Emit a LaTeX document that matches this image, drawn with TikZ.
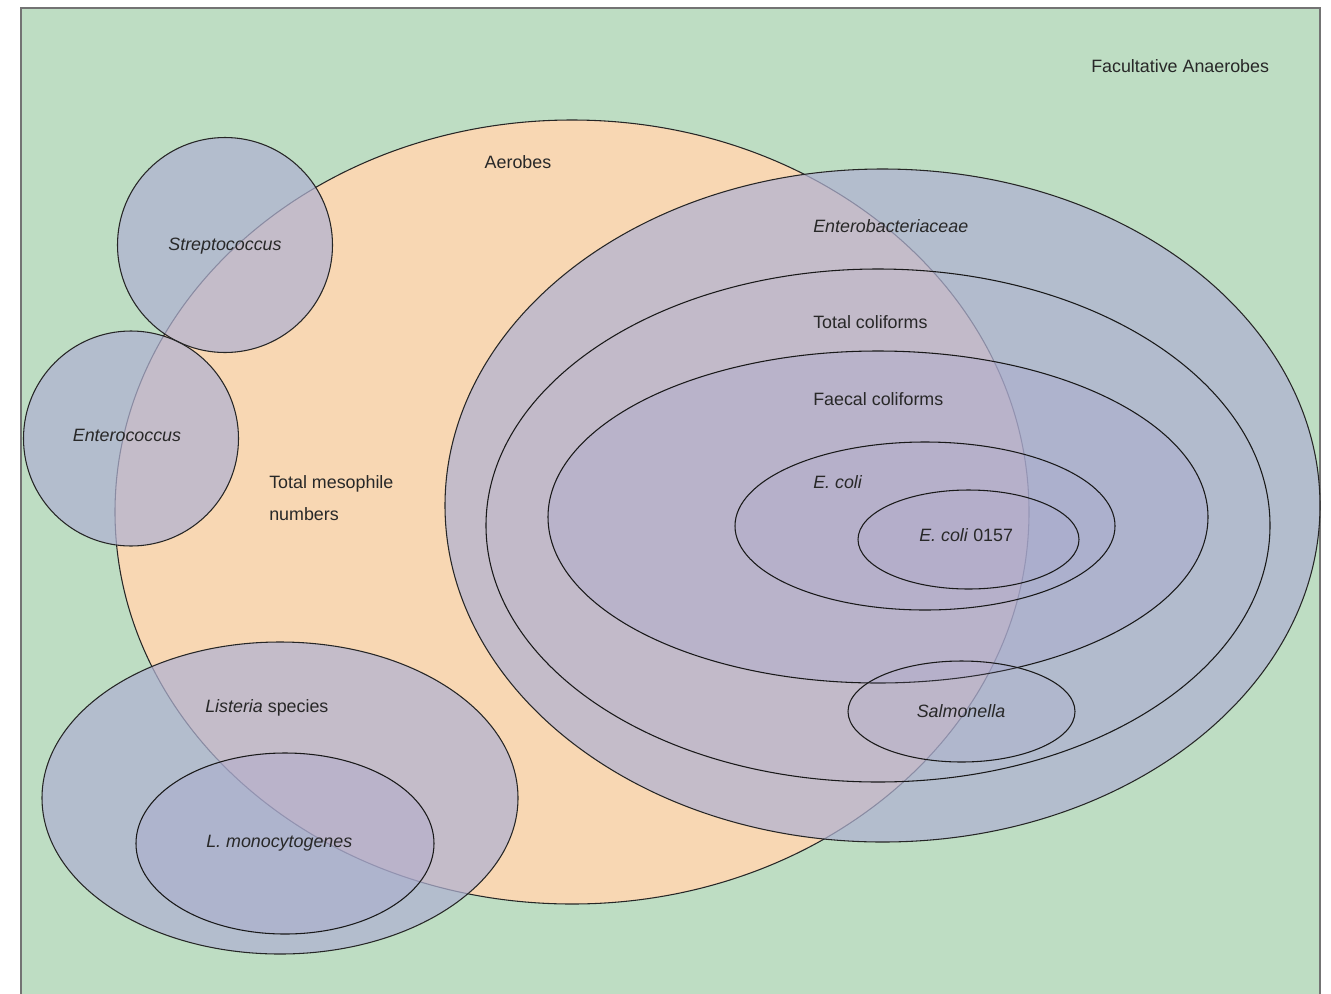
\documentclass[tikz,border=0pt]{standalone}
\usepackage{fontspec}
\setmainfont{Liberation Sans}
\definecolor{bggreen}{RGB}{190,221,195}
\definecolor{aerorange}{RGB}{248,215,179}
\definecolor{setblue}{RGB}{176,178,210}
\definecolor{nestblue}{RGB}{166,163,206}
\definecolor{txt}{RGB}{40,40,40}
\begin{document}
\begin{tikzpicture}[x=0.75pt,y=-0.75pt,
  outerset/.style={draw=black!85, line width=0.8pt, fill=setblue, fill opacity=0.72},
  innerset/.style={draw=black!90, line width=0.8pt, fill=nestblue, fill opacity=#1},
  innerset/.default=0.3,
  lbl/.style={font=\fontsize{13.4pt}{15pt}\selectfont, text=txt, inner sep=0pt, text height=0.72em, text depth=0pt},
  lblw/.style={lbl, anchor=west}]
\useasboundingbox (0,0) rectangle (1331,993);
% background
\fill[bggreen] (21,8) rectangle (1320,1000);
\draw[black!55, line width=1.1pt] (21,1000) -- (21,8) -- (1320,8) -- (1320,1000);
% aerobes
\draw[fill=aerorange, draw=black!85, line width=0.8pt] (572,512) ellipse [x radius=457, y radius=392];
% sets
\draw[outerset] (225,245) circle [radius=107.5];
\draw[outerset] (131,438.5) circle [radius=107.5];
\draw[outerset] (280,798) ellipse [x radius=238, y radius=156];
\draw[innerset=0.32] (285,843.5) ellipse [x radius=149, y radius=90.5];
\draw[outerset] (882.5,505.5) ellipse [x radius=437.5, y radius=336.5];
\draw[innerset=0.05] (878,525.5) ellipse [x radius=392, y radius=256.5];
\draw[innerset=0.3] (878,517) ellipse [x radius=330, y radius=166];
\draw[innerset=0.15] (925,526) ellipse [x radius=190, y radius=84];
\draw[innerset=0.1] (968.5,539.5) ellipse [x radius=110.5, y radius=49.5];
\draw[innerset=0.15] (961.5,711.5) ellipse [x radius=113.5, y radius=50.5];
% labels
\node[lblw] (fa) at (1091,68) {Facultative Anaerobes};
\node[lbl] (ae) at (518,164) {Aerobes};
\node[lbl] (st) at (225,246) {\itshape Streptococcus};
\node[lbl] (en) at (127,437) {\itshape Enterococcus};
\node[lblw] (tm1) at (269,484) {Total mesophile};
\node[lblw] (tm2) at (269,516) {numbers};
\node[lblw] (eb) at (813,228) {\itshape Enterobacteriaceae};
\node[lblw] (tc) at (813,324) {Total coliforms};
\node[lblw] (fc) at (813,401) {Faecal coliforms};
\node[lblw] (ec) at (813,484) {\itshape E. coli};
\node[lblw] (eo) at (919,537) {\textit{E. coli} 0157};
\node[lbl] (sa) at (961,713) {\itshape Salmonella};
\node[lblw] (li) at (205,708) {\textit{Listeria} species};
\node[lblw] (lm) at (206,843) {\itshape L. monocytogenes};
\end{tikzpicture}
\end{document}
